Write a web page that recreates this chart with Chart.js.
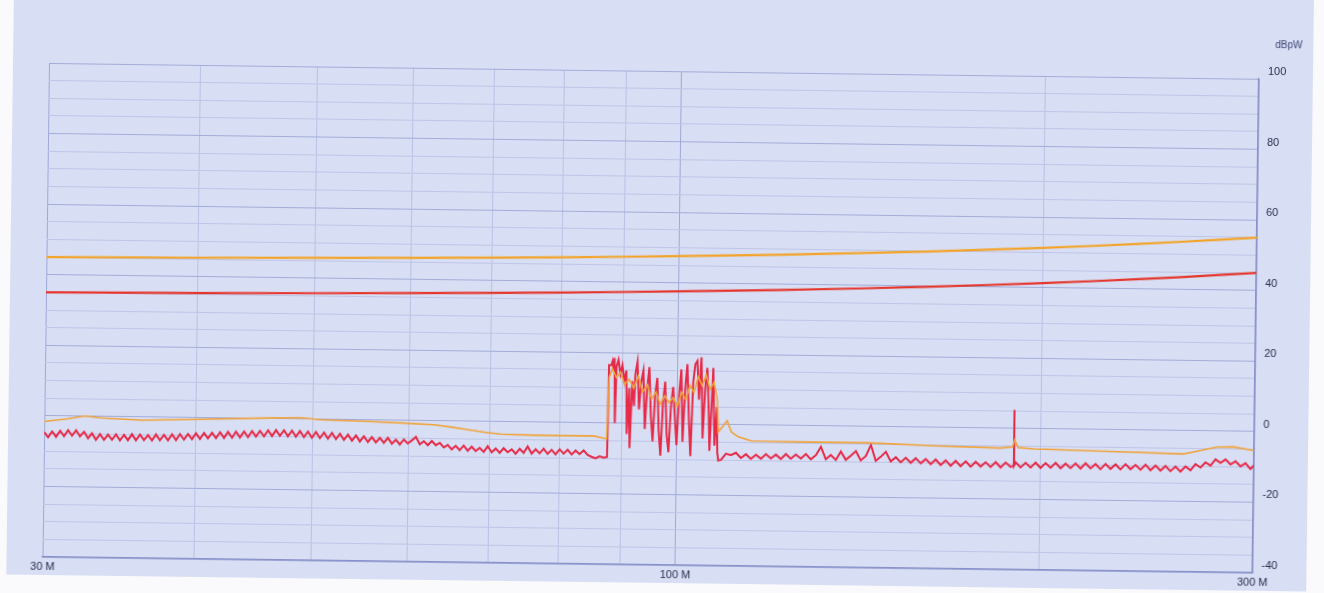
<!DOCTYPE html>
<html>
<head>
<meta charset="utf-8">
<script src="https://cdn.jsdelivr.net/npm/chart.js@4.4.1/dist/chart.umd.min.js"></script>
<style>
  html, body { margin: 0; padding: 0; background: #fafafc; overflow: hidden; }
  #sheet { position: absolute; left: 0; top: 0; width: 1324px; height: 593px;
           transform: rotate(0.75deg); transform-origin: 662px 296px; }
  #paper { position: absolute; left: 10px; top: -30px; width: 1300px; height: 613px; background: #d8def3; }
  #wrap { position: absolute; left: 0; top: 0; width: 1324px; height: 593px; }
</style>
</head>
<body>
<div id="sheet">
  <div id="paper"></div>
  <div id="wrap"><canvas id="emiChart" width="1324" height="593"></canvas></div>
</div>
<script>
// axis ticks
const xGridValues = [30, 40, 50, 60, 70, 80, 90, 100, 200, 300];
const xTickValues = [30, 100, 300];
const xTickText = ['30 M', '100 M', '300 M'];
const yGridValues = [-40, -35, -30, -25, -20, -15, -10, -5, 0, 5, 10, 15, 20, 25, 30, 35, 40,
                     45, 50, 55, 60, 65, 70, 75, 80, 85, 90, 95, 100];
const yTickValues = [-40, -20, 0, 20, 40, 60, 80, 100];

// limit lines (dBpW)
const limitFreq = [30, 40, 50, 60, 70, 80, 90, 100, 120, 140, 160, 180, 200, 220, 240, 260, 280, 300];
const qpLimit = [45.00, 45.37, 45.74, 46.11, 46.48, 46.85, 47.22, 47.59, 48.33, 49.07, 49.81,
                 50.56, 51.30, 52.04, 52.78, 53.52, 54.26, 55.00];
const avLimit = [35.00, 35.37, 35.74, 36.11, 36.48, 36.85, 37.22, 37.59, 38.33, 39.07, 39.81,
                 40.56, 41.30, 42.04, 42.78, 43.52, 44.26, 45.00];

// quasi-peak measurement (orange)
const qpFreq = [30.0, 31.3, 32.4, 33.45, 36.1, 40.5, 46.0, 48.9, 50.8, 55.6, 59.2, 63.0, 65.1, 67.2,
                69.3, 71.5, 76.2, 81.3, 85.4, 87.0, 87.5, 87.8, 88.3, 89.0, 89.7, 90.4, 91.2, 92.0,
                92.8, 93.6, 94.4, 95.2, 96.0, 96.8, 97.6, 98.4, 99.2, 100.0, 100.8, 101.6, 102.4,
                103.2, 104.0, 104.8, 105.6, 106.4, 107.2, 107.9, 108.2, 110.0, 110.9, 112.4, 115.2,
                126.7, 143.9, 163.1, 185.2, 189.5, 190.2, 191.5, 197.2, 231.5, 262.3, 267.4, 279.8,
                288.5, 298.0, 300];
const qpLevel = [-1.6, -0.8, 0.1, -0.4, -0.9, -0.4, 0.2, 0.4, -0.1, -0.4, -0.7, -1.1, -1.7, -2.4,
                 -3.0, -3.5, -3.7, -3.7, -3.7, -4.3, -4.5, 13.0, 15.5, 13.0, 14.5, 11.0, 12.5, 10.0,
                 13.5, 9.0, 11.0, 7.0, 9.0, 5.5, 8.0, 6.0, 7.5, 5.0, 9.0, 7.0, 11.0,
                 9.0, 13.5, 11.0, 14.0, 10.0, 12.0, 7.0, -2.1, 1.1, -2.0, -3.4, -4.5,
                 -4.6, -4.6, -5.2, -5.6, -5.2, -3.3, -5.4, -5.7, -6.2, -6.6, -6.0, -4.5,
                 -4.4, -5.2, -5.4];

// average measurement (red), 30 - 87 MHz
const avFreqLow = [30.00, 30.23, 30.46, 30.69, 30.93, 31.16, 31.40, 31.64, 31.88, 32.12,
  32.37, 32.62, 32.86, 33.11, 33.37, 33.62, 33.88, 34.14, 34.40, 34.66,
  34.93, 35.19, 35.46, 35.73, 36.01, 36.28, 36.56, 36.84, 37.12, 37.40,
  37.69, 37.98, 38.27, 38.56, 38.85, 39.15, 39.45, 39.75, 40.05, 40.36,
  40.67, 40.98, 41.29, 41.61, 41.93, 42.25, 42.57, 42.90, 43.22, 43.55,
  43.89, 44.22, 44.56, 44.90, 45.24, 45.59, 45.94, 46.29, 46.64, 46.99,
  47.35, 47.71, 48.08, 48.44, 48.81, 49.19, 49.56, 49.94, 50.32, 50.71,
  51.10, 51.49, 51.88, 52.28, 52.68, 53.08, 53.49, 53.90, 54.31, 54.72,
  55.13, 55.56, 55.98, 56.41, 56.84, 57.27, 57.71, 58.15, 58.60, 59.04,
  59.49, 59.95, 60.41, 60.87, 61.33, 61.80, 62.27, 62.75, 63.23, 63.71,
  64.19, 64.68, 65.18, 65.67, 66.17, 66.68, 67.19, 67.70, 68.22, 68.74,
  69.27, 69.80, 70.33, 70.87, 71.41, 71.95, 72.50, 73.06, 73.61, 74.18,
  74.74, 75.31, 75.89, 76.47, 77.05, 77.64, 78.23, 78.83, 79.43, 80.04,
  80.65, 81.27, 81.89, 82.51, 83.14, 83.78, 84.42, 85.06, 85.71, 86.37,
  87.03, 87.60];
const avLevelLow = [-4.6, -6.1, -4.4, -5.9, -4.2, -5.7, -4.0, -5.5, -4.0, -5.7, -4.4, -6.2, -4.8, -6.6,
  -5.0, -6.6, -5.1, -6.5, -5.0, -6.7, -5.1, -6.6, -4.9, -6.6, -5.0, -6.5, -5.1, -6.6, -4.9, -6.5, -5.0,
  -6.5, -4.8, -6.4, -4.7, -6.2, -4.6, -6.1, -4.4, -6.0, -4.3, -5.8, -4.2, -5.7, -4.0, -5.6, -3.9,
  -5.5, -3.8, -5.4, -3.7, -5.3, -3.6, -5.1, -3.5, -5.0, -3.3, -4.9, -3.2, -4.8,
  -3.2, -4.9, -3.3, -5.0, -3.4, -5.1, -3.5, -5.2, -3.6, -5.3, -3.7, -5.4, -3.8,
  -5.5, -4.0, -5.7, -4.2, -5.9, -4.4, -6.1, -4.6, -6.2, -4.8, -6.3, -5.0,
  -6.4, -5.0, -6.6, -5.5, -6.8, -5.4, -6.5, -5.6, -4.6, -6.7, -5.8, -6.9, -5.7,
  -6.9, -6.2, -7.5, -6.8, -8.0, -7.0, -8.2, -6.9, -8.3, -7.2, -8.4, -7.5, -8.6, -7.0, -8.7, -7.6,
  -8.8, -7.5, -8.6, -7.8, -9.0, -7.6, -8.7, -6.9, -8.9, -7.7, -8.8, -7.5, -8.9, -7.8, -9.0, -7.6,
  -8.8, -7.7, -9.0, -7.9, -8.9, -7.8, -9.1,
  -9.6, -10.0, -9.4, -9.8, -9.6];

// average measurement (red), FM broadcast band
const avFreqFm = [87.75, 88.16, 88.33, 88.50, 88.67, 88.83, 89.00, 89.34, 89.68, 90.02, 90.37, 90.71, 90.88,
  91.23, 91.40, 91.75, 92.10, 92.28, 92.63, 92.98, 93.34, 93.69, 94.05, 94.40, 94.76,
  95.13, 95.49, 95.85, 96.22, 96.58, 96.95, 97.32, 97.69, 98.06, 98.44, 98.81, 99.19,
  99.57, 99.94, 100.33, 100.71, 101.09, 101.48, 101.86, 102.25, 102.64, 103.03, 103.42, 103.82,
  104.21, 104.61, 105.01, 105.41, 105.81, 106.21, 106.41, 106.82, 107.02, 107.43, 107.84, 108.04, 108.25];
const avLevelFm = [16.5, 16.5, 17.5, 15.0, 18.5, 0.0, 16.0, 18.0, 14.0, 16.5, 12.0, 15.0, -3.0,
  10.0, -7.0, 12.0, 5.0, 14.0, 17.5, 4.0, 12.0, 15.0, -1.5, 10.0, 16.0,
  2.0, -5.0, 8.0, 13.0, -2.0, -9.0, 6.0, 12.0, -3.0, -8.0, 5.0, 10.5,
  2.0, -6.0, 8.0, 15.5, -5.0, 10.0, 17.0, 2.0, -9.0, 12.0, 17.0, 18.0,
  7.0, 19.0, -4.0, 10.0, 16.0, 3.0, -7.5, 8.0, 16.0, -6.0, 5.0, -8.0, -10.2];

// average measurement (red), 108 - 300 MHz
const avFreqHigh = [108.80, 109.84, 110.89, 111.95, 113.02, 114.10, 115.19, 116.29, 117.40, 118.52,
  119.65, 120.79, 121.94, 123.11, 124.29, 125.48, 126.68, 127.89, 129.11, 130.34,
  131.58, 132.84, 134.11, 135.39, 136.68, 137.99, 139.31, 140.64, 141.98, 143.34,
  144.71, 146.09, 147.49, 148.90, 150.32, 151.76, 153.21, 154.67, 156.15, 157.64,
  159.15, 160.67, 162.20, 163.75, 165.32, 166.90, 168.49, 170.10, 171.73, 173.37,
  175.03, 176.70, 178.39, 180.09, 181.81, 183.55, 185.30, 187.07, 188.86,
  189.90, 190.00, 190.10,
  190.66, 192.48, 194.32, 196.18, 198.05, 199.94, 201.85, 203.78, 205.73, 207.69, 209.68,
  211.68, 213.70, 215.74, 217.81, 219.89, 221.99, 224.11, 226.25, 228.41, 230.59,
  232.79, 235.02, 237.26, 239.53, 241.82, 244.13, 246.46, 248.81, 251.19, 253.59,
  256.01, 258.46, 260.93, 263.42, 265.94, 268.48, 271.04, 273.63, 276.25, 278.89,
  281.55, 284.24, 286.96, 289.70, 292.47, 295.26, 298.08, 300.00];
const avLevelHigh = [-10.0, -8.2, -8.6, -7.9, -9.4, -8.3, -9.6, -8.4, -9.5, -8.2,
  -9.4, -8.3, -9.5, -8.1, -9.4, -8.2, -9.3, -8.0, -9.5, -8.3,
  -5.9, -9.4, -8.2, -9.6, -7.2, -9.5, -8.3, -7.0, -9.6, -8.4,
  -5.2, -9.7, -8.5, -7.1, -9.8, -8.6, -10.0, -8.7, -10.1, -8.8,
  -10.2, -9.0, -10.4, -9.1, -10.6, -9.3, -10.8, -9.4, -10.9, -9.5,
  -11.0, -9.6, -10.9, -9.7, -11.0, -9.6, -11.1, -9.7, -10.9,
  -10.5, 5.3, -10.5,
  -9.6, -11.0, -9.7, -11.0, -9.6, -11.1, -9.7, -11.0, -9.6, -11.1, -9.8,
  -11.0, -9.7, -11.1, -9.6, -11.0, -9.8, -11.2, -9.7, -11.1, -9.8,
  -11.2, -9.7, -11.1, -9.9, -11.2, -9.8, -11.3, -10.0, -11.4, -10.1,
  -11.5, -10.2, -11.6, -10.1, -11.2, -9.4, -10.4, -8.9, -9.8, -8.0,
  -9.0, -8.0, -9.4, -8.5, -9.9, -9.0, -10.6, -9.6];

const toPoints = (freqs, levels) => freqs.map((f, i) => ({ x: f, y: levels[i] }));

const avFreq = [...avFreqLow, ...avFreqFm, ...avFreqHigh];
const avLevel = [...avLevelLow, ...avLevelFm, ...avLevelHigh];

const labelFont = { family: '"Liberation Sans", Arial, sans-serif', size: 11 };

const unitLabel = {
  id: 'unitLabel',
  afterDraw(chart) {
    const { ctx, chartArea } = chart;
    ctx.save();
    ctx.font = '10px "Liberation Sans", Arial, sans-serif';
    ctx.fillStyle = '#3b4478';
    ctx.textAlign = 'left';
    ctx.textBaseline = 'middle';
    ctx.fillText('dBpW', chartArea.right + 16, chartArea.top - 34);
    ctx.restore();
  },
};

const config = {
  type: 'scatter',
  data: {
    datasets: [
      { label: 'QP limit', data: toPoints(limitFreq, qpLimit), borderColor: '#f3a327', borderWidth: 2.2 },
      { label: 'AV limit', data: toPoints(limitFreq, avLimit), borderColor: '#e5352b', borderWidth: 2.2 },
      { label: 'QP', data: toPoints(qpFreq, qpLevel), borderColor: '#f0a33a', borderWidth: 1.6 },
      { label: 'AV', data: toPoints(avFreq, avLevel), borderColor: '#e62a48', borderWidth: 2 },
    ],
  },
  options: {
    responsive: false,
    animation: false,
    showLine: true,
    layout: { padding: { left: 46, top: 71, right: 0, bottom: 0 } },
    elements: { point: { radius: 0 }, line: { tension: 0 } },
    plugins: { legend: { display: false }, tooltip: { enabled: false } },
    scales: {
      x: {
        type: 'logarithmic',
        min: 30,
        max: 300,
        afterBuildTicks: (scale) => { scale.ticks = xGridValues.map((v) => ({ value: v })); },
        afterFit: (scale) => { scale.height = 28; },
        ticks: {
          autoSkip: false,
          maxRotation: 0,
          padding: 3,
          color: '#2a2f50',
          font: labelFont,
          callback: (v) => {
            const i = xTickValues.indexOf(v);
            return i >= 0 ? xTickText[i] : '';
          },
        },
        grid: {
          drawTicks: false,
          color: (ctx) => (ctx.tick && [30, 100, 300].includes(ctx.tick.value) ? '#9ea8d8' : '#b9c1e5'),
        },
        border: { color: '#8890c8', width: 1.2 },
      },
      y: {
        position: 'right',
        min: -40,
        max: 100,
        afterBuildTicks: (scale) => { scale.ticks = yGridValues.map((v) => ({ value: v })); },
        afterFit: (scale) => { scale.width = 68; },
        ticks: {
          autoSkip: false,
          padding: 9,
          labelOffset: -7,
          color: '#2a2f50',
          font: labelFont,
          callback: (v) => (yTickValues.includes(v) ? String(v) : ''),
        },
        grid: {
          drawTicks: false,
          color: (ctx) => (ctx.tick && ctx.tick.value % 20 === 0 ? '#a2acd9' : '#bec5e7'),
        },
        border: { color: '#8890c8', width: 1.2 },
      },
    },
  },
  plugins: [unitLabel],
};

const emiChart = new Chart(document.getElementById('emiChart'), config);
</script>
</body>
</html>
